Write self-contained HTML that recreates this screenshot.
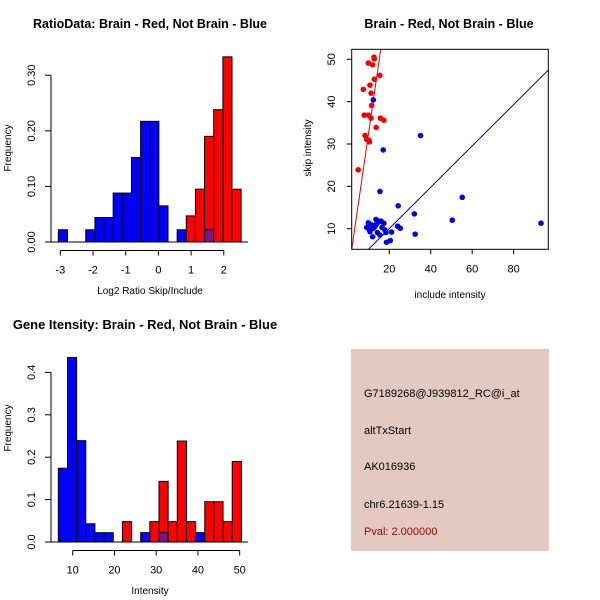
<!DOCTYPE html>
<html><head><meta charset="utf-8"><style>
body{margin:0;background:#fff;}
svg{display:block;font-family:"Liberation Sans",Arial,sans-serif;}
</style></head><body>
<svg id="s" width="600" height="600" viewBox="0 0 600 600">
<rect x="351" y="349" width="198" height="202" fill="#e4c9c3"/>
<g font-size="11">
<text x="364" y="397">G7189268@J939812_RC@i_at</text>
<text x="364" y="434">altTxStart</text>
<text x="364" y="470">AK016936</text>
<text x="364" y="508">chr6.21639-1.15</text>
<text x="364" y="535" fill="#aa0000">Pval: 2.000000</text>
</g>
</svg>
<script>
// Top-left histogram data
const ratioBinStart = -3.06, ratioBinWidth = 0.2795;
const ratioBlue = [0.022,0,0,0.022,0.044,0.044,0.088,0.088,0.152,0.217,0.217,0.065,0,0.022,0,0,0.022,0,0,0];
const ratioRed  = [0,0,0,0,0,0,0,0,0,0,0,0,0,0,0.047,0.095,0.19,0.238,0.333,0.095];
const ratioYTicks = ["0.00","0.10","0.20","0.30"];
const ratioXTicks = [-3,-2,-1,0,1,2];
// Bottom-left histogram data
const intBinStart = 6.56, intBinWidth = 2.192;
const intBlue = [0.174,0.435,0.239,0.043,0.022,0.022,0,0,0,0.022,0,0.022,0,0,0,0.022,0,0,0,0];
const intRed  = [0,0,0,0,0,0,0,0.048,0,0,0.048,0.143,0.048,0.238,0.048,0,0.095,0.095,0.048,0.19];
const intYTicks = ["0.0","0.1","0.2","0.3","0.4"];
const intXTicks = [10,20,30,40,50];
// Scatter data
const redX = [5.0,7.5,7.9,8.3,9.1,9.9,9.9,10.2,10.4,10.7,11.2,11.2,11.5,12.0,12.8,12.6,12.8,13.7,15.5,15.7,17.4];
const redY = [23.9,42.9,36.8,32.0,31.1,49.1,36.8,30.9,30.5,43.9,36.1,42.0,39.1,48.7,45.3,50.5,50.1,33.9,46.2,36.1,35.6];
const blueX = [12.3,35.1,17.1,15.5,24.3,32.1,55.2,50.4,93.2,32.5,9.9,9.1,10.7,12,13.1,13.9,15,16,17.4,17.9,15.5,14.3,12.3,11.5,10.3,16.5,18.4,21.1,18.7,20.5,24,25.3,13.6];
const blueY = [40.4,32.0,28.6,18.8,15.4,13.5,17.4,12.0,11.3,8.7,11.4,10.3,9.3,8.1,10.5,11.1,11.7,11.8,11.3,9.7,8.5,9.1,10.1,10.9,9.8,10.3,9.1,9.2,6.8,7.2,10.6,10.1,12.2];
const redLine = [-1.3, 3.38];   // intercept, slope
const blueLine = [0.27, 0.488];
const scXTicks = [20,40,60,80];
const scYTicks = [10,20,30,40,50];

const NS="http://www.w3.org/2000/svg", svg=document.getElementById('s');
function mk(tag, attrs, parent){const e=document.createElementNS(NS,tag);for(const k in attrs)e.setAttribute(k,attrs[k]);(parent||svg).appendChild(e);return e;}
function txt(x,y,s,attrs){const e=mk('text',Object.assign({x:x,y:y,'text-anchor':'middle','font-size':11},attrs||{}));e.textContent=s;return e;}

function hist(o){
  const g=mk('g',{});
  
  
  const xs=v=>o.x0px+(v-o.x0v)*o.xk, ys=v=>o.y0px-v*o.yk;
  for(let i=0;i<o.blue.length;i++){
    const l=xs(o.binStart+i*o.binW), r=xs(o.binStart+(i+1)*o.binW);
    const b=o.blue[i], rd=o.red[i];
    if(b>0){const e=mk('rect',{x:l,y:ys(b),width:r-l,height:ys(0)-ys(b),fill:'#0000ff',stroke:'#000','stroke-width':1},g);
      
      }
    if(rd>0){const e=mk('rect',{x:l,y:ys(rd),width:r-l,height:ys(0)-ys(rd),fill:'#ff0000',stroke:'#000','stroke-width':1},g);
      
      }
    if(b>0&&rd>0){const m=Math.min(b,rd);const e=mk('rect',{x:l,y:ys(m),width:r-l,height:ys(0)-ys(m),fill:'#7f128c',stroke:'#000','stroke-width':1},g);
      
      }
  }
  mk('line',{x1:51,x2:248,y1:ys(0),y2:ys(0),stroke:'#000'},g);
  const yv=o.yTicks.map(Number);
  mk('line',{x1:51,x2:51,y1:ys(yv[0]),y2:ys(yv[yv.length-1]),stroke:'#000'},g);
  o.yTicks.forEach(t=>{const y=ys(Number(t));mk('line',{x1:45,x2:51,y1:y,y2:y,stroke:'#000'},g);
    const e=txt(35,y,t,{transform:`rotate(-90 35 ${y})`});});
  const ay=o.y0px+8.5;
  mk('line',{x1:xs(o.xTicks[0]),x2:xs(o.xTicks[o.xTicks.length-1]),y1:ay,y2:ay,stroke:'#000'},g);
  o.xTicks.forEach(t=>{const x=xs(t);mk('line',{x1:x,x2:x,y1:ay,y2:ay+5,stroke:'#000'},g);
    const e=txt(x,ay+23,String(t));});
  const yl=txt(11,o.ymid,'Frequency',{'font-size':10,transform:`rotate(-90 11 ${o.ymid})`});
  
  const xl=txt(150,o.y0px+52,o.xlab,{'font-size':10});
  
  const tl=txt(o.tx,o.ty,o.title,{'font-weight':'bold','font-size':o.fs});
  
}
hist({name:'ratio-histogram',blue:ratioBlue,red:ratioRed,binStart:ratioBinStart,binW:ratioBinWidth,x0v:-3,x0px:60.3,xk:32.7,y0px:242,yk:556,yTicks:ratioYTicks,xTicks:ratioXTicks,ymid:148,xlab:'Log2 Ratio Skip/Include',title:'RatioData: Brain - Red, Not Brain - Blue',tx:150,ty:28,fs:12.5});
hist({name:'intensity-histogram',blue:intBlue,red:intRed,binStart:intBinStart,binW:intBinWidth,x0v:10,x0px:72.7,xk:4.175,y0px:542,yk:424,yTicks:intYTicks,xTicks:intXTicks,ymid:428,xlab:'Intensity',title:'Gene Itensity: Brain - Red, Not Brain - Blue',tx:145,ty:329,fs:13});

(function(){
  const g=mk('g',{});
  
  
  const xs=v=>347.8+v*2.073, ys=v=>59.3+(50-v)*4.235;
  const L=351.7,R=548.3,T=49.3,B=249.3;
  const cp=mk('clipPath',{id:'cp'},g);mk('rect',{x:L,y:T,width:R-L,height:B-T},cp);
  const cg=mk('g',{'clip-path':'url(#cp)'},g);
  [[redLine,'#dd0000','red-fit-line'],[blueLine,'#00008b','blue-fit-line']].forEach(([ln,c,n])=>{
    const e=mk('line',{x1:xs(0),y1:ys(ln[0]),x2:xs(100),y2:ys(ln[0]+ln[1]*100),stroke:c,'stroke-width':1},cg);
    
    
  });
  redX.forEach((v,i)=>{const e=mk('circle',{cx:xs(v),cy:ys(redY[i]),r:2.8,fill:'#ee0000'},cg);
    
    });
  blueX.forEach((v,i)=>{const e=mk('circle',{cx:xs(v),cy:ys(blueY[i]),r:2.8,fill:'#0000dd'},cg);
    
    });
  mk('rect',{x:L,y:T,width:R-L,height:B-T,fill:'none',stroke:'#000'},g);
  scXTicks.forEach(t=>{const x=xs(t);mk('line',{x1:x,x2:x,y1:B,y2:B+5,stroke:'#000'},g);
    const e=txt(x,B+23,String(t));});
  scYTicks.forEach(t=>{const y=ys(t);mk('line',{x1:L-5,x2:L,y1:y,y2:y,stroke:'#000'},g);
    const e=txt(335,y,String(t),{transform:`rotate(-90 335 ${y})`});});
  const yl=txt(311,148,'skip intensity',{'font-size':10,transform:'rotate(-90 311 148)'});
  
  const xl=txt(450,298,'include intensity',{'font-size':10});
  
  const tl=txt(449,28,'Brain - Red, Not Brain - Blue',{'font-weight':'bold','font-size':12.6});
  
})();
</script>
</body></html>
